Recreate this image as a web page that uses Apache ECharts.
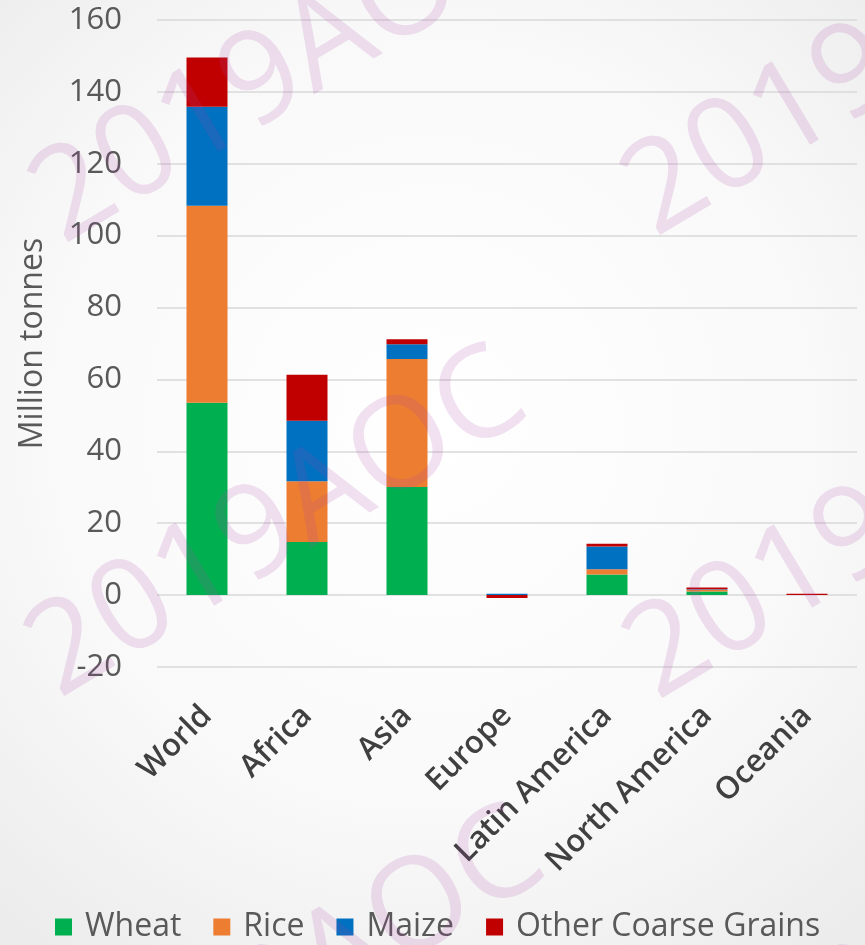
<!DOCTYPE html>
<html>
<head>
<meta charset="utf-8">
<script src="https://cdn.jsdelivr.net/npm/echarts@6/dist/echarts.min.js"></script>
<style>
html,body{margin:0;padding:0;background:#fff;}
#main{width:865px;height:945px;}
</style>
</head>
<body>
<div id="main"></div>
<script>
var categories = ['World', 'Africa', 'Asia', 'Europe', 'Latin America', 'North America', 'Oceania'];
var wheat = [53.5, 14.8, 30.1, 0, 5.7, 1.0, 0];
var rice = [54.8, 16.9, 35.6, 0, 1.5, 0.5, 0];
var maize = [27.6, 16.8, 4.1, 0.4, 6.3, 0.1, 0];
var otherGrains = [13.7, 12.8, 1.4, -0.8, 0.8, 0.5, 0.4];
var seriesNames = ['Wheat', 'Rice', 'Maize', 'Other Coarse Grains'];
var yTicks = {min: -20, max: 160, interval: 20};
var watermarkText = '2019AOC';

var colors = ['#00b050', '#ed7d31', '#0070c0', '#c00000'];
var font = '"Open Sans", "DejaVu Sans", sans-serif';

var chart = echarts.init(document.getElementById('main'), null, {renderer: 'canvas'});

var wmStarts = [[44, 214], [40, 668], [58, 1128], [636, 207], [638, 670], [638, 1128]];
var graphics = [{
  type: 'rect', z: -100, silent: true,
  shape: {x: 0, y: 0, width: 865, height: 945},
  style: {fill: {type: 'radial', x: 0.5, y: 0.45, r: 0.75,
    colorStops: [{offset: 0, color: '#ffffff'}, {offset: 0.6, color: '#f9f9f9'}, {offset: 1, color: '#ececec'}]}}
}];
wmStarts.forEach(function (p) {
  graphics.push({
    type: 'text', z: 100, silent: true,
    x: p[0], y: p[1], rotation: 31 * Math.PI / 180,
    style: {text: watermarkText, font: '128px ' + font, fill: 'rgba(165,70,165,0.16)',
      align: 'left', verticalAlign: 'middle', textAlign: 'left', textVerticalAlign: 'middle'}
  });
});

var dataLists = [wheat, rice, maize, otherGrains];
var series = seriesNames.map(function (name, i) {
  return {
    name: name, type: 'bar', stack: 'total', barWidth: 41,
    itemStyle: {color: colors[i]},
    data: dataLists[i]
  };
});

chart.setOption({
  animation: false,
  color: colors,
  graphic: graphics,
  grid: {left: 157, right: 8, top: 20, bottom: 278, containLabel: false},
  legend: {
    data: seriesNames, left: 50, top: 906, icon: 'rect',
    itemWidth: 17, itemHeight: 17, itemGap: 32,
    textStyle: {fontFamily: font, fontSize: 32, color: '#595959', padding: [0, 0, 0, 8]}
  },
  xAxis: {
    type: 'category', data: categories,
    axisLine: {show: false, onZero: false}, axisTick: {show: false},
    axisLabel: {rotate: 45, margin: 44, interval: 0, fontFamily: font, fontSize: 31,
      fontWeight: 600, color: '#404040'}
  },
  yAxis: {
    type: 'value', min: yTicks.min, max: yTicks.max, interval: yTicks.interval,
    name: 'Million tonnes', nameLocation: 'middle', nameGap: 108,
    nameTextStyle: {fontFamily: font, fontSize: 32, color: '#595959'},
    axisLine: {show: false}, axisTick: {show: false},
    axisLabel: {margin: 35, fontFamily: font, fontSize: 31, color: '#595959'},
    splitLine: {lineStyle: {color: '#d9d9d9', width: 1.5}}
  },
  series: series
});
</script>
</body>
</html>
